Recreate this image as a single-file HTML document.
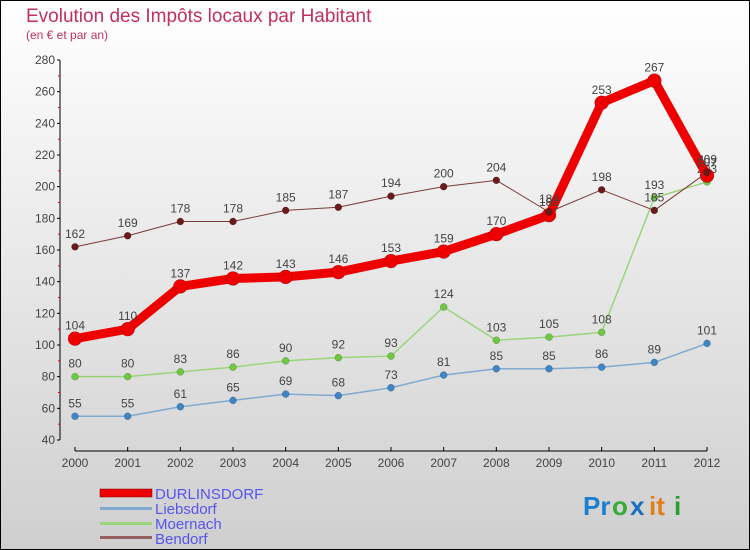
<!DOCTYPE html>
<html><head><meta charset="utf-8"><style>
body{margin:0;}
#c{width:750px;height:550px;position:relative;overflow:hidden;}
text{font-family:"Liberation Sans",sans-serif;}
</style></head><body>
<div id="c">
<svg id="svg" width="750" height="550" xmlns="http://www.w3.org/2000/svg">
<defs><linearGradient id="bg" x1="0" y1="0" x2="0" y2="1"><stop offset="0" stop-color="#ffffff"/><stop offset="1" stop-color="#cfcfcf"/></linearGradient></defs>
<rect x="0.5" y="0.5" width="749" height="549" fill="url(#bg)" stroke="#000"/>
<text x="26" y="22" font-size="19" fill="#c3305e">Evolution des Impôts locaux par Habitant</text>
<text x="26" y="39" font-size="12" fill="#c3305e">(en € et par an)</text>
<g id="axes"></g>
<g id="series"></g>
<g>
<rect x="100" y="489" width="52" height="8" fill="#e00" stroke="#800" stroke-width="0.5"/>
<text x="155" y="499" font-size="15" fill="#5555ee">DURLINSDORF</text>
<rect x="100" y="507" width="52" height="3" fill="#7fa9cf"/>
<text x="155" y="514" font-size="15" fill="#5555ee">Liebsdorf</text>
<rect x="100" y="522" width="52" height="3" fill="#99d67a"/>
<text x="155" y="529" font-size="15" fill="#5555ee">Moernach</text>
<rect x="100" y="536" width="52" height="3" fill="#946060"/>
<text x="155" y="544" font-size="15" fill="#5555ee">Bendorf</text>
</g>
<g font-size="26" font-weight="bold">
<text x="583" y="515" fill="#1a7fd0">Pr</text><text x="612" y="515" fill="#3aaa3a">o</text><text x="630" y="515" fill="#1a6fc0">x</text><text x="649" y="515" fill="#e0801a">it</text><text x="674" y="515" fill="#2aa02a">i</text>
</g>
</svg></div>
<script>
const years=[2000,2001,2002,2003,2004,2005,2006,2007,2008,2009,2010,2011,2012];
const yTicks=[40,60,80,100,120,140,160,180,200,220,240,260,280];
const durlinsdorf=[104,110,137,142,143,146,153,159,170,182,253,267,207];
const liebsdorf=[55,55,61,65,69,68,73,81,85,85,86,89,101];
const moernach=[80,80,83,86,90,92,93,124,103,105,108,193,203];
const bendorf=[162,169,178,178,185,187,194,200,204,184,198,185,209];
const NS="http://www.w3.org/2000/svg";
const X=i=>75+i*(707-75)/(years.length-1);
const Y=v=>440-(v-40)*380/240;
function mk(tag,attrs,parent){const e=document.createElementNS(NS,tag);for(const k in attrs)e.setAttribute(k,attrs[k]);parent.appendChild(e);return e;}
const ax=document.getElementById('axes');
const yl=mk('line',{x1:60,y1:60,x2:60,y2:440,stroke:'#000'},ax);


yTicks.forEach((t,i)=>{
  mk('line',{x1:57,y1:Y(t),x2:60,y2:Y(t),stroke:'#000'},ax);
  if(i<yTicks.length-1)mk('line',{x1:58,y1:Y(t+10),x2:60,y2:Y(t+10),stroke:'#e00'},ax);
  const tx=mk('text',{x:55,y:Y(t)+4,'font-size':12,fill:'#444','text-anchor':'end'},ax);
  tx.textContent=t;
  
  
});
const xl=mk('line',{x1:75,y1:451,x2:707,y2:451,stroke:'#000'},ax);


years.forEach((y,i)=>{
  mk('line',{x1:X(i),y1:447,x2:X(i),y2:451,stroke:'#000'},ax);
  const tx=mk('text',{x:X(i),y:467,'font-size':12,fill:'#444','text-anchor':'middle'},ax);
  tx.textContent=y;
  
  
});
const sg=document.getElementById('series');
function drawSeries(name,data,color,dot,w,r){
  const g=mk('g',{},sg);
  
  
  const p=mk('polyline',{points:data.map((v,i)=>X(i)+','+Y(v)).join(' '),fill:'none',stroke:color,'stroke-width':w,'stroke-linejoin':'round'},g);
  
  
  data.forEach((v,i)=>{
    const c=mk('circle',{cx:X(i),cy:Y(v),r:r,fill:dot,stroke:'rgba(0,0,0,0.3)','stroke-width':0.5},g);
    
    
    const t=mk('text',{x:X(i),y:Y(v)-9,'font-size':12,fill:'#444','text-anchor':'middle'},g);
    t.textContent=v;
    
    
  });
}
drawSeries('liebsdorf',liebsdorf,'#7fa9cf','#3f86c4',1.5,3.5);
drawSeries('moernach',moernach,'#99d67a','#6ec840',1.5,3.5);
drawSeries('durlinsdorf',durlinsdorf,'#ee0000','#ee0000',9,7);
drawSeries('bendorf',bendorf,'#7a3a3a','#6a1a1a',1,3.5);
</script>
</body></html>
